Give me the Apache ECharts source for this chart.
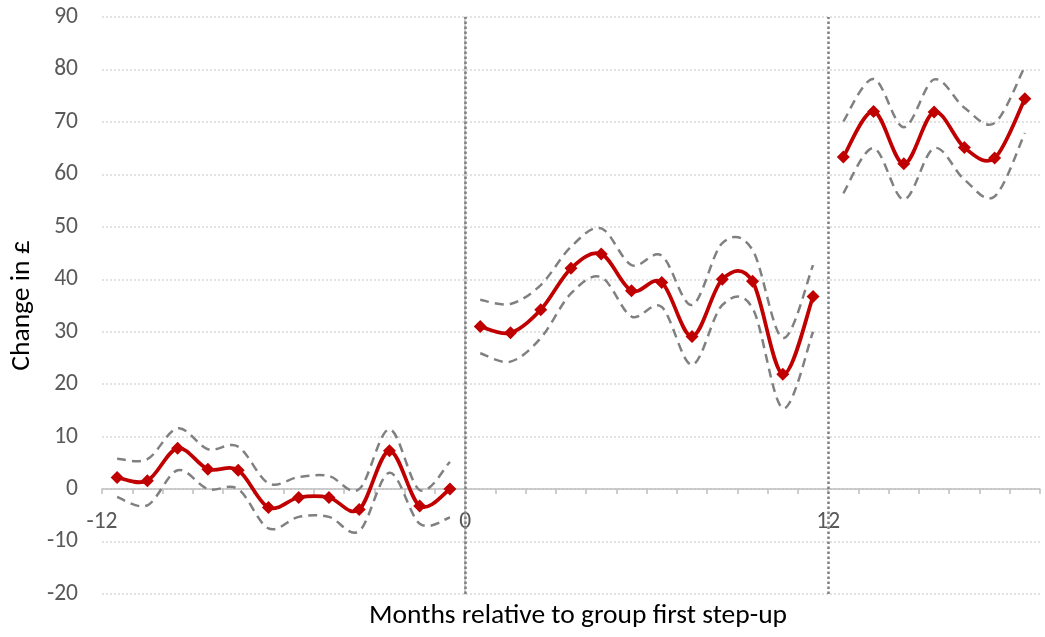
<!DOCTYPE html>
<html><head><meta charset="utf-8">
<script src="https://cdn.jsdelivr.net/npm/echarts@6/dist/echarts.min.js"></script>
<style>html,body{margin:0;padding:0;background:#fff}#c{width:1045px;height:637px}</style>
</head><body><div id="c"></div>
<script>
// Categories: months relative to first step-up
const months = [-12,-11,-10,-9,-8,-7,-6,-5,-4,-3,-2,-1,0,1,2,3,4,5,6,7,8,9,10,11,12,13,14,15,16,17,18];
const xTickLabels = ['-12', '0', '12'];
const stepUps = [0, 12];
const segmentStarts = [-12, 0, 12];

// Segment 1: before first step-up
const preMid   = [2.2, 1.6, 7.8, 3.8, 3.6, -3.5, -1.6, -1.6, -3.9, 7.3, -3.2, 0.0];
const preUpper = [5.8, 5.7, 11.6, 7.6, 8.1, 1.1, 2.3, 2.5, 0.0, 11.4, -0.2, 5.2];
const preLower = [-1.5, -3.1, 3.6, 0.0, 0.0, -7.5, -5.3, -5.3, -8.0, 3.1, -6.6, -5.4];
// Segment 2: after first step-up
const midMid   = [31.0, 29.8, 34.2, 42.1, 44.8, 37.8, 39.4, 29.1, 40.0, 39.6, 21.9, 36.7];
const midUpper = [36.1, 35.3, 38.9, 46.2, 49.7, 42.7, 44.5, 35.1, 46.9, 45.6, 28.8, 42.7];
const midLower = [25.9, 24.3, 28.8, 37.3, 40.4, 32.9, 34.7, 23.7, 35.1, 34.5, 15.4, 30.0];
// Segment 3: after second step-up
const lateMid   = [63.3, 72.0, 62.0, 71.9, 65.1, 63.1, 74.4];
const lateUpper = [70.1, 78.2, 69.0, 78.1, 72.7, 69.8, 80.6];
const lateLower = [56.4, 65.0, 55.2, 65.0, 59.0, 55.8, 67.9];

const FONT = 'Carlito, Calibri, Lato, sans-serif';
const segMid = [preMid, midMid, lateMid];
const segUpper = [preUpper, midUpper, lateUpper];
const segLower = [preLower, midLower, lateLower];

function pad(values, startMonth) {
  const arr = months.map(() => null);
  const s = months.indexOf(startMonth);
  values.forEach((v, i) => { arr[s + i] = v; });
  return arr;
}

// Smooth curve (Catmull-Rom style, like a spreadsheet "smoothed line") drawn through axis coordinates
function curveSeries(values, startMonth, stroke, width, dash, z) {
  const s = months.indexOf(startMonth);
  const data = values.map((v, i) => [s + i, v]);
  return {
    type: 'custom', xAxisIndex: 0, yAxisIndex: 0, z: z, silent: true,
    data: data, encode: { x: 0, y: 1 },
    renderItem: function (params, api) {
      if (params.dataIndex !== 0) return null;
      const pts = data.map(d => api.coord(d));
      const n = pts.length;
      let path = 'M' + pts[0][0] + ',' + pts[0][1];
      for (let i = 0; i < n - 1; i++) {
        const p0 = pts[Math.max(i - 1, 0)], p1 = pts[i], p2 = pts[i + 1], p3 = pts[Math.min(i + 2, n - 1)];
        const c1x = p1[0] + (p2[0] - p0[0]) / 6, c1y = p1[1] + (p2[1] - p0[1]) / 6;
        const c2x = p2[0] - (p3[0] - p1[0]) / 6, c2y = p2[1] - (p3[1] - p1[1]) / 6;
        path += ' C' + c1x + ',' + c1y + ' ' + c2x + ',' + c2y + ' ' + p2[0] + ',' + p2[1];
      }
      return {
        type: 'path', shape: { pathData: path },
        style: { fill: 'none', stroke: stroke, lineWidth: width, lineDash: dash, lineJoin: 'round' }
      };
    }
  };
}

const series = [];
segmentStarts.forEach((start, k) => {
  series.push(curveSeries(segUpper[k], start, '#808080', 2.5, [9, 6], 3));
  series.push(curveSeries(segLower[k], start, '#808080', 2.5, [9, 6], 3));
  series.push(curveSeries(segMid[k], start, '#C00000', 3.75, null, 4));
});
segmentStarts.forEach((start, k) => {
  series.push({
    type: 'line', xAxisIndex: 0, data: pad(segMid[k], start),
    symbol: 'diamond', symbolSize: 13, showSymbol: true, connectNulls: false,
    itemStyle: { color: '#C00000' },
    lineStyle: { opacity: 0, width: 0 }, z: 5
  });
});
series.push({
  type: 'line', xAxisIndex: 1, data: [], silent: true,
  markLine: {
    symbol: 'none', silent: true, label: { show: false },
    lineStyle: { color: '#7F7F7F', type: [2.5, 2.5], width: 2.5 },
    data: stepUps.map(v => ({ xAxis: v }))
  }
});

const chart = echarts.init(document.getElementById('c'));
chart.setOption({
  animation: false,
  backgroundColor: '#fff',
  grid: { left: 101, right: 5, top: 17, bottom: 43, containLabel: false },
  xAxis: [
    {
      type: 'category', data: months, boundaryGap: true,
      axisLine: { onZero: true, lineStyle: { color: '#BFBFBF', width: 1.5 } },
      axisTick: { show: true, length: 5, lineStyle: { color: '#BFBFBF', width: 1.5 } },
      axisLabel: { show: false }, splitLine: { show: false }
    },
    {
      type: 'value', min: -12, max: 19, interval: 12, position: 'bottom', offset: -105,
      axisLine: { show: false, onZero: false }, axisTick: { show: false }, splitLine: { show: false },
      axisLabel: {
        margin: 21, fontSize: 23.5, color: '#595959', fontFamily: FONT,
        showMaxLabel: false,
        formatter: v => xTickLabels.includes(String(v)) ? String(v) : ''
      }
    }
  ],
  yAxis: {
    type: 'value', min: -20, max: 90, interval: 10,
    name: 'Change in £', nameLocation: 'middle', nameGap: 66,
    nameTextStyle: { fontSize: 27.5, color: '#000', fontFamily: FONT },
    axisLine: { show: true, lineStyle: { color: '#BFBFBF', width: 1.5 } },
    axisTick: { show: false },
    axisLabel: { margin: 24, fontSize: 23.5, color: '#595959', fontFamily: FONT },
    splitLine: { lineStyle: { color: '#D9D9D9', type: [2, 2], width: 1.5 } }
  },
  graphic: [{
    type: 'text', x: 578, y: 616,
    style: { text: 'Months relative to group first step-up', fontSize: 27.5, fill: '#000',
      fontFamily: FONT, align: 'center', verticalAlign: 'middle' }
  }],
  series: series
});
</script></body></html>
